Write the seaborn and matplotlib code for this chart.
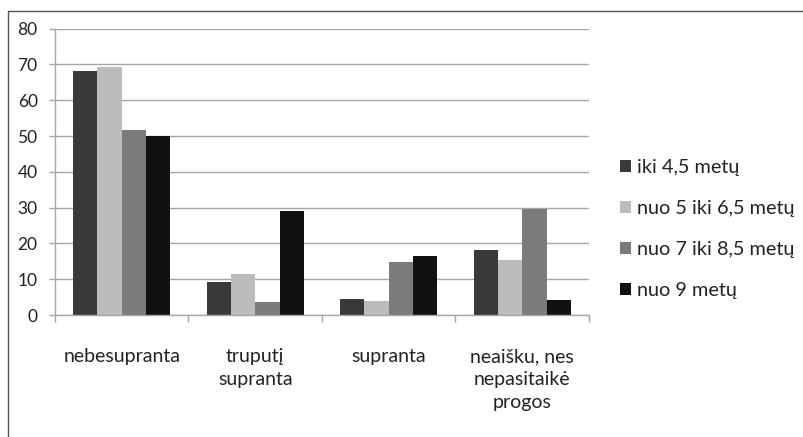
import matplotlib
matplotlib.use("Agg")
import matplotlib.pyplot as plt
from matplotlib.lines import Line2D
import seaborn as sns
import pandas as pd

# Categories and series
categories = ["nebesupranta", "truputį\nsupranta", "supranta", "neaišku, nes\nnepasitaikė\nprogos"]
series = ["iki 4,5 metų", "nuo 5 iki 6,5 metų", "nuo 7 iki 8,5 metų", "nuo 9 metų"]
iki_4_5 = [68.1, 9.1, 4.4, 18.1]
nuo_5_iki_6_5 = [69.2, 11.4, 3.8, 15.3]
nuo_7_iki_8_5 = [51.8, 3.5, 14.7, 29.6]
nuo_9 = [50.0, 29.1, 16.6, 4.1]
y_ticks = [0, 10, 20, 30, 40, 50, 60, 70, 80]

colors = ["#393939", "#bcbcbc", "#7b7b7b", "#111111"]

rows = []
for name, vals in zip(series, [iki_4_5, nuo_5_iki_6_5, nuo_7_iki_8_5, nuo_9]):
    for cat, v in zip(categories, vals):
        rows.append({"kategorija": cat, "grupė": name, "reikšmė": v})
df = pd.DataFrame(rows)

sns.set_theme(style="white")
plt.rcParams["font.family"] = ["Lato", "DejaVu Sans"]

fig = plt.figure(figsize=(8.04, 4.37), dpi=100)
ax = fig.add_axes([55 / 804, 1 - 315 / 437, (589 - 55) / 804, (315 - 28.7) / 437])

sns.barplot(data=df, x="kategorija", y="reikšmė", hue="grupė", order=categories,
            hue_order=series, palette=colors, width=0.73, gap=0, saturation=1,
            edgecolor="none", linewidth=0, ax=ax, legend=True)

ax.set_xlim(-0.5, len(categories) - 0.5)
ax.set_ylim(0, 80)
ax.set_yticks(y_ticks)
ax.set_xlabel("")
ax.set_ylabel("")

grid_col = "#a6a6a6"
text_col = "#222222"
ax.yaxis.grid(True, color=grid_col, linewidth=1.0)
ax.set_axisbelow(True)
for s in ["right", "top"]:
    ax.spines[s].set_visible(False)
for s in ["left", "bottom"]:
    ax.spines[s].set_color(grid_col)
    ax.spines[s].set_linewidth(1.0)

ax.tick_params(axis="y", left=True, length=4.5, width=1.0, color=grid_col,
               pad=8, labelsize=12.5, labelcolor=text_col)

# Category boundaries as major ticks, labels on minor ticks
ax.set_xticks([i - 0.5 for i in range(len(categories) + 1)])
ax.set_xticklabels([""] * (len(categories) + 1))
ax.set_xticks(range(len(categories)), minor=True)
ax.set_xticklabels(categories, minor=True, linespacing=1.4, va="top")
ax.tick_params(axis="x", which="major", bottom=True, length=5, width=1.0, color=grid_col)
ax.tick_params(axis="x", which="minor", bottom=False, length=0, pad=24,
               labelsize=14, labelcolor=text_col)

leg = ax.legend(loc="center left", bbox_to_anchor=(620 / 804, 1 - 229 / 437),
                bbox_transform=fig.transFigure, frameon=False, fontsize=14.3,
                handlelength=0.56, handleheight=0.56, handletextpad=0.3,
                labelspacing=1.22, borderaxespad=0, borderpad=0)
for t in leg.get_texts():
    t.set_color(text_col)

# Outer chart frame
frame_col = "#555555"
fig.add_artist(Line2D([8 / 804, 8 / 804], [0, 1 - 11 / 437], transform=fig.transFigure,
                      color=frame_col, linewidth=1.0))
fig.add_artist(Line2D([8 / 804, 1], [1 - 11 / 437, 1 - 11 / 437], transform=fig.transFigure,
                      color=frame_col, linewidth=1.0))

fig.savefig("out.png", dpi=100)
